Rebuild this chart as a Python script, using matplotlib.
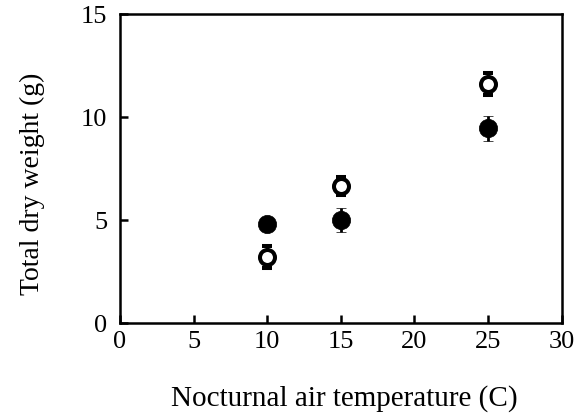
import matplotlib.pyplot as plt

temperature = [10, 15, 25]

# open circles
open_weight = [3.2, 6.65, 11.6]
open_err = [0.55, 0.45, 0.55]

# filled circles
filled_weight = [4.8, 5.0, 9.45]
filled_err = [0.2, 0.6, 0.6]

plt.rcParams['font.family'] = ['Liberation Serif', 'DejaVu Serif']

fig = plt.figure(figsize=(5.81, 4.17), dpi=100)
ax = fig.add_axes([0.2065, 0.2254, 0.7603, 0.741])

ax.errorbar(temperature, filled_weight, yerr=filled_err, fmt='o', color='black',
            markersize=13.2, markeredgewidth=0.5, elinewidth=2, capsize=3.8,
            capthick=2.3, zorder=3)
ax.errorbar(temperature, open_weight, yerr=open_err, fmt='o', color='black',
            markerfacecolor='white', markeredgecolor='black', markeredgewidth=2.9,
            markersize=10.8, elinewidth=2, capsize=3.8, capthick=2.3, zorder=3)

ax.set_xlim(0, 30)
ax.set_ylim(0, 15)
ax.set_xticks([0, 5, 10, 15, 20, 25, 30])
ax.set_yticks([0, 5, 10, 15])

for s in ax.spines.values():
    s.set_linewidth(1.8)
ax.tick_params(direction='in', length=6, width=1.8, labelsize=19)
ax.tick_params(axis='x', pad=6)
ax.tick_params(axis='y', pad=9)

ax.set_xlabel('Nocturnal air temperature (C)', fontsize=21)
ax.set_ylabel('Total dry weight (g)', fontsize=20)
ax.xaxis.set_label_coords(0.508, -0.2)
ax.yaxis.set_label_coords(-0.17, 0.45)

fig.savefig('out.png', dpi=100)
